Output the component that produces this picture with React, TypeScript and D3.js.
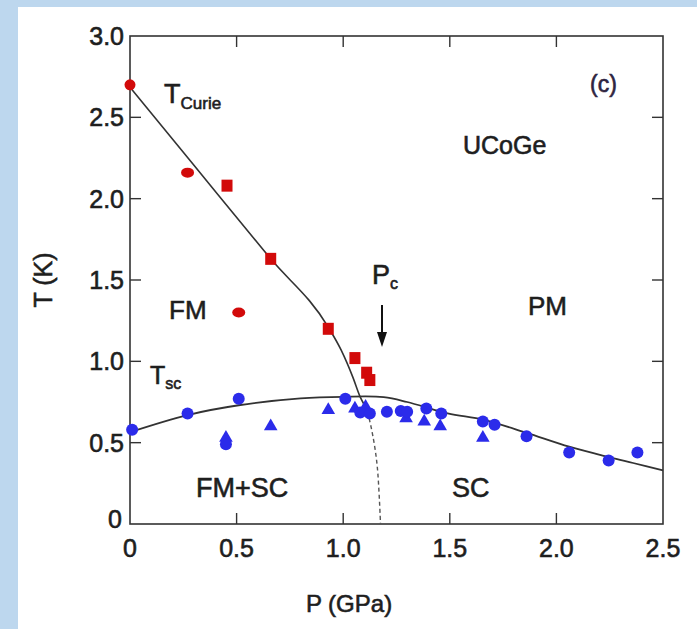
import React from "react";
import * as d3 from "d3";

// Curie temperature points (red)
const curieCircleP = [0];
const curieCircleT = [2.7];
const curieOvalP = [0.27, 0.51];
const curieOvalT = [2.16, 1.3];
const curieSquareP = [0.455, 0.66, 0.93, 1.055, 1.11, 1.125];
const curieSquareT = [2.08, 1.63, 1.2, 1.02, 0.93, 0.885];

// superconducting transition points (blue)
const scCircleP = [0.01, 0.27, 0.51, 0.45, 1.01, 1.08, 1.125, 1.205, 1.27, 1.3, 1.39, 1.46, 1.655, 1.71, 1.86, 2.06, 2.245, 2.38];
const scCircleT = [0.58, 0.68, 0.77, 0.49, 0.77, 0.685, 0.68, 0.69, 0.695, 0.69, 0.71, 0.68, 0.63, 0.61, 0.54, 0.44, 0.39, 0.44];
const scTriangleP = [0.45, 0.66, 0.93, 1.055, 1.105, 1.295, 1.38, 1.455, 1.655];
const scTriangleT = [0.53, 0.6, 0.7, 0.71, 0.72, 0.65, 0.63, 0.6, 0.53];

// guide lines
const curieLineP = [0, 0.3, 0.66, 0.93, 0.99, 1.046, 1.08, 1.1];
const curieLineT = [2.685, 2.205, 1.63, 1.21, 1.07, 0.9, 0.78, 0.73];
const curieDashP = [1.1, 1.115, 1.14, 1.16, 1.175];
const curieDashT = [0.73, 0.68, 0.535, 0.35, 0];
const scLineP = [0, 0.27, 0.51, 0.8, 1.0, 1.19, 1.3, 1.49, 1.66, 1.86, 2.06, 2.25, 2.36, 2.5];
const scLineT = [0.565, 0.67, 0.73, 0.772, 0.782, 0.78, 0.75, 0.68, 0.64, 0.56, 0.475, 0.41, 0.375, 0.33];

const xTicks = [0, 0.5, 1.0, 1.5, 2.0, 2.5];
const yTicks = [0, 0.5, 1.0, 1.5, 2.0, 2.5, 3.0];

const W = 697;
const H = 629;
const RED = "#d20a0a";
const BLUE = "#2b2bea";
const INK = "#1e1e1e";
const FONT = "'Liberation Sans', Arial, sans-serif";

export default function App() {
  const x = d3.scaleLinear().domain([0, 2.5]).range([130, 663]);
  const y = d3.scaleLinear().domain([0, 3]).range([524, 36]);

  const path = (ps: number[], ts: number[], curve: d3.CurveFactory) =>
    d3
      .line<number>()
      .curve(curve)
      .x((_, i) => x(ps[i]))
      .y((_, i) => y(ts[i]))(ps)!;

  const tri = d3.symbol(d3.symbolTriangle, 80)()!;
  const tick = 11;
  const fmt = (v: number) => (v === 0 ? "0" : v.toFixed(1));

  return (
    <svg
      width={W}
      height={H}
      style={{ position: "absolute", left: 0, top: 0 }}
      fontFamily={FONT}
    >
      <rect width={W} height={H} fill="#bdd7ee" />
      <rect x={18} y={7} width={W - 18} height={H - 7} fill="#fff" />

      {/* frame */}
      <rect
        x={x(0)}
        y={y(3)}
        width={x(2.5) - x(0)}
        height={y(0) - y(3)}
        fill="none"
        stroke="#333"
        strokeWidth={1.6}
      />
      {xTicks.slice(1, -1).map(t => (
        <g key={"xt" + t} stroke="#333" strokeWidth={1.4}>
          <line x1={x(t)} x2={x(t)} y1={y(0)} y2={y(0) - tick} />
          <line x1={x(t)} x2={x(t)} y1={y(3)} y2={y(3) + tick} />
        </g>
      ))}
      {yTicks.slice(1, -1).map(t => (
        <g key={"yt" + t} stroke="#333" strokeWidth={1.4}>
          <line x1={x(0)} x2={x(0) + tick} y1={y(t)} y2={y(t)} />
          <line x1={x(2.5)} x2={x(2.5) - tick} y1={y(t)} y2={y(t)} />
        </g>
      ))}

      <g fill={INK} stroke={INK} strokeWidth={0.6}>
        {/* tick labels */}
        {xTicks.map(t => (
          <text key={"xl" + t} x={x(t)} y={y(0) + 33} textAnchor="middle" fontSize={25}>
            {fmt(t)}
          </text>
        ))}
        {yTicks.map(t => (
          <text
            key={"yl" + t}
            x={t === 0 ? 122 : 124}
            y={y(t) + (t === 0 ? 4 : 9)}
            textAnchor="end"
            fontSize={25}
          >
            {fmt(t)}
          </text>
        ))}

        <text x={349} y={612} textAnchor="middle" fontSize={24}>
          P (GPa)
        </text>
        <text transform="translate(52,280) rotate(-90)" textAnchor="middle" fontSize={25}>
          T (K)
        </text>

        {/* annotations */}
        <text x={164} y={103} fontSize={27}>
          T<tspan fontSize={17} dy={6}>Curie</tspan>
        </text>
        <text x={590} y={92} fontSize={23} fill="#2e2440" stroke="#2e2440">
          (c)
        </text>
        <text x={463} y={154} fontSize={25}>
          UCoGe
        </text>
        <text x={372} y={284} fontSize={27}>
          P<tspan fontSize={16} dy={5}>c</tspan>
        </text>
        <text x={169} y={319} fontSize={26}>
          FM
        </text>
        <text x={528} y={315} fontSize={26}>
          PM
        </text>
        <text x={150} y={384} fontSize={25}>
          T<tspan fontSize={16} dy={5}>sc</tspan>
        </text>
        <text x={196} y={497} fontSize={27}>
          FM+SC
        </text>
        <text x={452} y={497} fontSize={27}>
          SC
        </text>
      </g>

      {/* guide curves */}
      <path d={path(curieLineP, curieLineT, d3.curveMonotoneX)} fill="none" stroke="#333" strokeWidth={1.6} />
      <path d={path(scLineP, scLineT, d3.curveCatmullRom)} fill="none" stroke="#333" strokeWidth={1.8} />
      <path
        d={path(curieDashP, curieDashT, d3.curveCatmullRom)}
        fill="none"
        stroke="#555"
        strokeWidth={1.4}
        strokeDasharray="4,3"
      />

      {/* red markers */}
      {curieCircleP.map((p, i) => (
        <circle key={"rc" + i} cx={x(p)} cy={y(curieCircleT[i])} r={5.5} fill={RED} />
      ))}
      {curieOvalP.map((p, i) => (
        <ellipse key={"ro" + i} cx={x(p)} cy={y(curieOvalT[i])} rx={6.5} ry={5} fill={RED} />
      ))}
      {curieSquareP.map((p, i) => (
        <rect
          key={"rs" + i}
          x={x(p) - 5.5}
          y={y(curieSquareT[i]) - 6}
          width={11}
          height={12}
          fill={RED}
        />
      ))}

      {/* blue markers */}
      {scTriangleP.map((p, i) => (
        <path
          key={"bt" + i}
          d={tri}
          transform={`translate(${x(p)},${y(scTriangleT[i])})`}
          fill={BLUE}
        />
      ))}
      {scCircleP.map((p, i) => (
        <circle key={"bc" + i} cx={x(p)} cy={y(scCircleT[i])} r={6} fill={BLUE} />
      ))}

      {/* arrow at Pc */}
      <line x1={382} x2={382} y1={305} y2={336} stroke="#111" strokeWidth={2} />
      <path d="M377,332 L387,332 L382,347 Z" fill="#111" />
    </svg>
  );
}
